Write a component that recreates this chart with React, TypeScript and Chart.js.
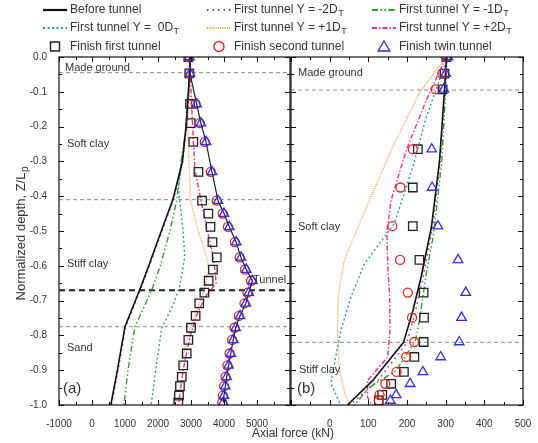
import React, { useEffect, useRef } from 'react';
import { Chart, registerables } from 'chart.js';
Chart.register(...registerables);

const FONT = '"Liberation Sans", Arial, Helvetica, sans-serif';
const TXT = '#333';

// ---------- Left panel (a) ----------
const leftLineDepths = [0, -0.1, -0.2, -0.3, -0.41, -0.5, -0.6, -0.67, -0.775, -0.9, -1.0];
const leftBefore = [2980, 2920, 2850, 2740, 2450, 2100, 1720, 1440, 1000, 770, 570];
const leftYm2 = [2990, 2930, 2860, 2750, 2470, 2120, 1740, 1460, 1020, 790, 590];
const leftYm1 = [2990, 2930, 2860, 2700, 2570, 2360, 2070, 1810, 1300, 1090, 970];
const leftY0Depths = [0, -0.1, -0.2, -0.3, -0.38, -0.5, -0.575, -0.66, -0.71, -0.78, -0.88, -1.0];
const leftY0 = [2980, 2930, 2860, 2730, 2620, 2760, 2810, 2660, 2470, 2110, 1960, 1790];
const leftYp1Depths = [0, -0.1, -0.2, -0.325, -0.41, -0.5, -0.575, -0.613, -0.661, -0.7, -0.786, -0.9, -1.0];
const leftYp1 = [2960, 2930, 2900, 2950, 2980, 3220, 3475, 3525, 3420, 3280, 2960, 2640, 2440];
const leftYp2Depths = [0, -0.1, -0.2, -0.325, -0.42, -0.49, -0.555, -0.613, -0.65, -0.69, -0.74, -0.8, -0.9, -1.0];
const leftYp2 = [2970, 3000, 3050, 3120, 3320, 3475, 3625, 3730, 3760, 3430, 3180, 2980, 2760, 2620];

const leftMarkerDepths = [0, -0.047, -0.135, -0.19, -0.244, -0.33, -0.413, -0.45, -0.488, -0.532, -0.576, -0.611, -0.643, -0.677, -0.708, -0.744, -0.778, -0.813, -0.852, -0.886, -0.919, -0.946, -0.973, -0.993];
const leftFirstFinish = [2920, 2950, 2970, 2990, 3070, 3225, 3335, 3525, 3590, 3650, 3780, 3665, 3535, 3405, 3250, 3140, 3000, 2920, 2870, 2765, 2720, 2665, 2635, 2615];
const leftSecondFinish = [2930, 2950, 3140, 3270, 3420, 3600, 3780, 3960, 4120, 4330, 4475, 4635, 4820, 4710, 4620, 4450, 4320, 4245, 4170, 4105, 4045, 4005, 3965, 3945];
const leftTwinFinish = [2950, 2970, 3170, 3300, 3455, 3635, 3820, 4000, 4160, 4370, 4515, 4675, 4860, 4750, 4660, 4485, 4355, 4280, 4205, 4140, 4080, 4040, 4000, 3980];

const leftLayerBounds = [-0.045, -0.41, -0.775];
const leftTunnelDepth = -0.67;

// ---------- Right panel (b) ----------
const rightBeforeDepths = [0, -0.095, -0.3, -0.49, -0.63, -0.73, -0.82, -0.93, -1.0];
const rightBefore = [302, 297, 284, 263, 237, 215, 191, 111, 46];
const rightYm2 = [303, 298, 286, 266, 242, 222, 200, 125, 52];
const rightYm1Depths = [0, -0.095, -0.3, -0.507, -0.622, -0.757, -0.814, -0.901, -0.949, -1.0];
const rightYm1 = [304, 300, 290, 269, 250, 232, 222, 172, 103, 64];
const rightY0Depths = [0, -0.095, -0.172, -0.316, -0.479, -0.594, -0.69, -0.786, -0.882, -0.939, -1.0];
const rightY0 = [305, 275, 250, 215, 167, 90, 55, 29, 12, 3, 29];
const rightYp1Depths = [0, -0.01, -0.104, -0.258, -0.411, -0.498, -0.555, -0.594, -0.69, -0.786, -0.9, -0.97, -1.0];
const rightYp1 = [300, 294, 232, 163, 103, 70, 48, 36, 22, 20, 25, 40, 52];
const rightYp2Depths = [0, -0.01, -0.124, -0.268, -0.411, -0.5, -0.594, -0.69, -0.786, -0.862, -0.929, -0.978, -1.0];
const rightYp2 = [302, 297, 250, 198, 159, 148, 150, 155, 156, 150, 98, 98, 110];

const rightMarkerDepths = [0, -0.048, -0.093, -0.265, -0.375, -0.486, -0.583, -0.677, -0.749, -0.819, -0.862, -0.905, -0.939, -0.971, -0.987];
const rightFirstFinish = [302, 297, 292, 228, 215, 215, 232, 243, 244, 243, 219, 192, 159, 136, 127];
const rightSecondFinish = [300, 291, 274, 215, 183, 162, 182, 202, 213, 219, 198, 173, 144, 129, 127];
const rightTwinFinish = [306, 300, 295, 264, 265, 280, 332, 352, 341, 335, 287, 241, 208, 172, 157];

const rightLayerBounds = [-0.095, -0.82];

// ---------- styles ----------
const S = {
  before: { color: '#111', dash: [] as number[], width: 1.6 },
  ym2: { color: '#a8327a', dash: [1.5, 4], width: 1.5 },
  ym1: { color: '#2ca02c', dash: [6, 2.5, 1.5, 2.5, 1.5, 2.5], width: 1.4 },
  y0: { color: '#2b9a9a', dash: [2, 2.5], width: 1.4 },
  yp1: { color: '#f3a040', dash: [1, 1.2], width: 1.3 },
  yp2: { color: '#e8318a', dash: [5, 2, 1.5, 2], width: 1.4 },
  sq: '#222',
  circ: '#e02424',
  tri: '#3030e0',
};

const zip = (xs: number[], ys: number[]) => xs.map((x, i) => ({ x, y: ys[i] }));

function lineDs(label: string, xs: number[], ys: number[], st: { color: string; dash: number[]; width: number }) {
  return {
    label, data: zip(xs, ys), showLine: true, borderColor: st.color, borderWidth: st.width,
    borderDash: st.dash, pointRadius: 0, fill: false, tension: 0,
  };
}
function markerDs(label: string, xs: number[], ys: number[], style: string, color: string, radius: number, line?: string) {
  return {
    label, data: zip(xs, ys), showLine: !!line, borderColor: line || color, borderWidth: line ? 1.2 : 1.3,
    pointStyle: style, pointRadius: radius, pointBorderColor: color, pointBorderWidth: 1.3,
    pointBackgroundColor: 'rgba(0,0,0,0)', fill: false, tension: 0,
  };
}

function hline(chart: any, depth: number, color: string, width: number, dash: number[]) {
  const { ctx, chartArea } = chart;
  const y = chart.scales.y.getPixelForValue(depth);
  ctx.save();
  ctx.strokeStyle = color; ctx.lineWidth = width; ctx.setLineDash(dash);
  ctx.beginPath(); ctx.moveTo(chartArea.left, y); ctx.lineTo(chartArea.right, y); ctx.stroke();
  ctx.restore();
}

function frameAndTicks(chart: any, xStep: number) {
  const { ctx, chartArea: a } = chart;
  const xs = chart.scales.x, ys = chart.scales.y;
  ctx.save();
  ctx.strokeStyle = '#111'; ctx.lineWidth = 1.2; ctx.setLineDash([]);
  ctx.strokeRect(a.left, a.top, a.right - a.left, a.bottom - a.top);
  ctx.lineWidth = 1;
  ctx.beginPath();
  for (let v = xs.min; v <= xs.max + 1e-9; v += xStep / 2) {
    const major = Math.abs(((v - xs.min) / xStep) - Math.round((v - xs.min) / xStep)) < 1e-6;
    const len = major ? 5 : 3;
    const px = Math.round(xs.getPixelForValue(v)) + 0.5;
    ctx.moveTo(px, a.bottom); ctx.lineTo(px, a.bottom - len);
    ctx.moveTo(px, a.top); ctx.lineTo(px, a.top + len);
  }
  for (let i = 0; i <= 20; i++) {
    const v = -i * 0.05;
    const len = i % 2 === 0 ? 5 : 3;
    const py = Math.round(ys.getPixelForValue(v)) + 0.5;
    ctx.moveTo(a.left, py); ctx.lineTo(a.left + len, py);
    ctx.moveTo(a.right, py); ctx.lineTo(a.right - len, py);
  }
  ctx.stroke();
  ctx.restore();
}

function text(ctx: any, s: string, x: number, y: number, size: number, align = 'left') {
  ctx.save();
  ctx.fillStyle = TXT; ctx.font = `${size}px ${FONT}`; ctx.textAlign = align; ctx.textBaseline = 'middle';
  ctx.fillText(s, x, y);
  ctx.restore();
}

function drawMarker(ctx: any, kind: string, x: number, y: number, color: string) {
  ctx.save(); ctx.strokeStyle = color; ctx.lineWidth = 1.4; ctx.setLineDash([]);
  ctx.beginPath();
  if (kind === 'rect') ctx.rect(x - 4.5, y - 4.5, 9, 9);
  else if (kind === 'circle') ctx.arc(x, y, 5, 0, Math.PI * 2);
  else { ctx.moveTo(x, y - 5.5); ctx.lineTo(x + 6, y + 4.5); ctx.lineTo(x - 6, y + 4.5); ctx.closePath(); }
  ctx.stroke(); ctx.restore();
}

const legendItems = [
  { t: 'Before tunnel', st: S.before, sub: false },
  { t: 'First tunnel Y = -2D', st: S.ym2, sub: true },
  { t: 'First tunnel Y = -1D', st: S.ym1, sub: true },
  { t: 'First tunnel Y =  0D', st: S.y0, sub: true },
  { t: 'First tunnel Y = +1D', st: S.yp1, sub: true },
  { t: 'First tunnel Y = +2D', st: S.yp2, sub: true },
];
const markerLegend = [
  { t: 'Finish first tunnel', k: 'rect', c: S.sq },
  { t: 'Finish second tunnel', k: 'circle', c: S.circ },
  { t: 'Finish twin tunnel', k: 'triangle', c: S.tri },
];

function drawLegend(ctx: any) {
  const colX = [43, 207, 372];
  const rowY = [10, 28, 46.5];
  legendItems.forEach((it, i) => {
    const cx = colX[i % 3], cy = rowY[Math.floor(i / 3)];
    ctx.save();
    ctx.strokeStyle = it.st.color; ctx.lineWidth = it === legendItems[0] ? 2.2 : 1.8; ctx.setLineDash(it.st.dash);
    ctx.beginPath(); ctx.moveTo(cx, cy); ctx.lineTo(cx + 24, cy); ctx.stroke();
    ctx.restore();
    ctx.save();
    ctx.fillStyle = TXT; ctx.font = `12px ${FONT}`; ctx.textBaseline = 'middle'; ctx.textAlign = 'left';
    ctx.fillText(it.t, cx + 27, cy);
    if (it.sub) {
      const w = ctx.measureText(it.t).width;
      ctx.font = `9px ${FONT}`;
      ctx.fillText('T', cx + 27 + w + 0.5, cy + 4);
    }
    ctx.restore();
  });
  markerLegend.forEach((m, i) => {
    const cx = colX[i], cy = rowY[2];
    drawMarker(ctx, m.k, cx + 12, cy, m.c);
    text(ctx, m.t, cx + 27, cy, 12);
  });
}

function makePlugin(side: 'left' | 'right') {
  return {
    id: 'panel-' + side,
    beforeDatasetsDraw(chart: any) {
      if (side === 'left') {
        leftLayerBounds.forEach((d) => hline(chart, d, '#8a8a8a', 1, [4, 3]));
        hline(chart, leftTunnelDepth, '#222', 2, [6, 4]);
      } else {
        rightLayerBounds.forEach((d) => hline(chart, d, '#8a8a8a', 1, [4, 3]));
      }
    },
    afterDatasetsDraw(chart: any) {
      frameAndTicks(chart, side === 'left' ? 1000 : 100);
    },
    afterDraw(chart: any) {
      const { ctx, chartArea: a } = chart;
      const ys = chart.scales.y;
      if (side === 'left') {
        drawLegend(ctx);
        text(ctx, 'Made ground', a.left + 6, ys.getPixelForValue(-0.032), 11);
        text(ctx, 'Soft clay', a.left + 8, ys.getPixelForValue(-0.25), 11);
        text(ctx, 'Stiff clay', a.left + 8, ys.getPixelForValue(-0.596), 11);
        text(ctx, 'Sand', a.left + 8, ys.getPixelForValue(-0.837), 11);
        text(ctx, 'Tunnel', a.right - 37, ys.getPixelForValue(-0.642), 11);
        text(ctx, '(a)', a.left + 4, ys.getPixelForValue(-0.955), 15);
        text(ctx, 'Axial force (kN)', 293, 434, 12, 'center');
        ctx.save();
        ctx.translate(21, 233);
        ctx.rotate(-Math.PI / 2);
        ctx.fillStyle = TXT; ctx.font = `13px ${FONT}`; ctx.textBaseline = 'middle'; ctx.textAlign = 'left';
        const main = 'Normalized depth, Z/L';
        const w = ctx.measureText(main).width;
        const total = w + 7;
        ctx.fillText(main, -total / 2, 0);
        ctx.font = `10px ${FONT}`;
        ctx.fillText('p', -total / 2 + w + 0.5, 4);
        ctx.restore();
      } else {
        text(ctx, 'Made ground', a.left + 7, ys.getPixelForValue(-0.046), 11);
        text(ctx, 'Soft clay', a.left + 7, ys.getPixelForValue(-0.489), 11);
        text(ctx, 'Stiff clay', a.left + 8, ys.getPixelForValue(-0.9), 11);
        text(ctx, '(b)', a.left + 6, ys.getPixelForValue(-0.955), 15);
      }
    },
  };
}

function baseOptions(xmin: number, xmax: number, step: number, hideVal: number, padding: any, showY: boolean, yWidth: number) {
  return {
    responsive: false,
    animation: false as const,
    layout: { padding },
    plugins: { legend: { display: false }, tooltip: { enabled: false } },
    scales: {
      x: {
        type: 'linear' as const, min: xmin, max: xmax,
        grid: { display: false }, border: { display: false },
        ticks: {
          stepSize: step, autoSkip: false, maxRotation: 0, padding: 5, color: TXT,
          font: { family: FONT, size: 10 },
          callback: (v: any) => (Math.abs(Number(v) - hideVal) < 1e-9 ? '' : String(Math.round(Number(v)))),
        },
        afterFit: (s: any) => { s.height = 38; },
      },
      y: {
        type: 'linear' as const, min: -1, max: 0, display: showY,
        grid: { display: false }, border: { display: false },
        ticks: {
          stepSize: 0.1, autoSkip: false, padding: 4, color: TXT,
          font: { family: FONT, size: 10 },
          callback: (v: any) => Number(v).toFixed(1),
        },
        afterFit: (s: any) => { s.width = yWidth; },
      },
    },
  };
}

export default function App() {
  const leftRef = useRef<HTMLCanvasElement>(null);
  const rightRef = useRef<HTMLCanvasElement>(null);

  useEffect(() => {
    const left = new Chart(leftRef.current as HTMLCanvasElement, {
      type: 'scatter',
      data: {
        datasets: [
          markerDs('Finish twin tunnel', leftTwinFinish, leftMarkerDepths, 'triangle', S.tri, 5.5, '#1e1e3c'),
          markerDs('Finish second tunnel', leftSecondFinish, leftMarkerDepths, 'circle', S.circ, 4.5),
          markerDs('Finish first tunnel', leftFirstFinish, leftMarkerDepths, 'rect', S.sq, 6),
          lineDs('Before tunnel', leftBefore, leftLineDepths, S.before),
          lineDs('First tunnel Y = -2DT', leftYm2, leftLineDepths, S.ym2),
          lineDs('First tunnel Y = -1DT', leftYm1, leftLineDepths, S.ym1),
          lineDs('First tunnel Y = 0DT', leftY0, leftY0Depths, S.y0),
          lineDs('First tunnel Y = +1DT', leftYp1, leftYp1Depths, S.yp1),
          lineDs('First tunnel Y = +2DT', leftYp2, leftYp2Depths, S.yp2),
        ] as any,
      },
      options: baseOptions(-1000, 6000, 1000, 6000, { left: 0, right: 248, top: 57, bottom: 0 }, true, 59) as any,
      plugins: [makePlugin('left')],
    });
    const right = new Chart(rightRef.current as HTMLCanvasElement, {
      type: 'scatter',
      data: {
        datasets: [
          markerDs('Finish twin tunnel', rightTwinFinish, rightMarkerDepths, 'triangle', S.tri, 5.5),
          markerDs('Finish second tunnel', rightSecondFinish, rightMarkerDepths, 'circle', S.circ, 4.5),
          markerDs('Finish first tunnel', rightFirstFinish, rightMarkerDepths, 'rect', S.sq, 6),
          lineDs('Before tunnel', rightBefore, rightBeforeDepths, S.before),
          lineDs('First tunnel Y = -2DT', rightYm2, rightBeforeDepths, S.ym2),
          lineDs('First tunnel Y = -1DT', rightYm1, rightYm1Depths, S.ym1),
          lineDs('First tunnel Y = 0DT', rightY0, rightY0Depths, S.y0),
          lineDs('First tunnel Y = +1DT', rightYp1, rightYp1Depths, S.yp1),
          lineDs('First tunnel Y = +2DT', rightYp2, rightYp2Depths, S.yp2),
        ] as any,
      },
      options: baseOptions(-100, 500, 100, -100, { left: 291, right: 15, top: 57, bottom: 0 }, false, 0) as any,
      plugins: [makePlugin('right')],
    });
    return () => { left.destroy(); right.destroy(); };
  }, []);

  return (
    <div style={{ position: 'absolute', left: 0, top: 0, width: 538, height: 443, background: '#fff' }}>
      <canvas ref={leftRef} width={538} height={443} style={{ position: 'absolute', left: 0, top: 0 }} />
      <canvas ref={rightRef} width={538} height={443} style={{ position: 'absolute', left: 0, top: 0 }} />
    </div>
  );
}
